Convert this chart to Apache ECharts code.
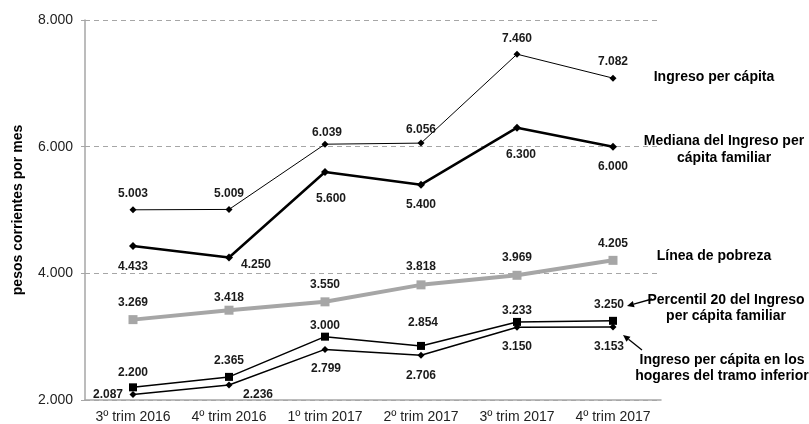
<!DOCTYPE html>
<html><head><meta charset="utf-8">
<script src="https://cdn.jsdelivr.net/npm/echarts@6/dist/echarts.min.js"></script>
<style>html,body{margin:0;padding:0;background:#fff}#c{width:809px;height:424px}</style>
</head><body><div id="c"></div>
<script>
var categories = ['3º trim 2016','4º trim 2016','1º trim 2017','2º trim 2017','3º trim 2017','4º trim 2017'];
var ingresoPerCapita = [5003, 5009, 6039, 6056, 7460, 7082];
var medianaIngreso = [4433, 4250, 5600, 5400, 6300, 6000];
var lineaPobreza = [3269, 3418, 3550, 3818, 3969, 4205];
var percentil20 = [2200, 2365, 3000, 2854, 3233, 3250];
var tramoInferior = [2087, 2236, 2799, 2706, 3150, 3153];
var yTicks = [2000, 4000, 6000, 8000];

// label offsets (styling)
var offPer = [[0,-16],[0,-16],[2,-12],[0,-13],[0,-16],[0,-16]];
var offMed = [[0,21],[27,7],[6,27],[0,20],[4,27],[0,20]];
var offPob = [[0,-17],[0,-13],[0,-17],[0,-18],[0,-18],[0,-17]];
var offP20 = [[0,-15],[0,-16],[0,-11],[2,-23],[0,-11],[-4,-16]];
var offTra = [[-25,0],[29,10],[1,19],[0,20],[0,20],[-4,20]];

function fmt(v){ return (v/1000).toFixed(3); }
function mk(vals, offs){
  return vals.map(function(v,i){ return {value:v, label:{offset:offs[i]}}; });
}
var FONT = 'Liberation Sans, Arial, sans-serif';
var lbl = {show:true, position:'inside', fontFamily:FONT, fontWeight:'bold', fontSize:12, color:'#1a1a1a',
  formatter:function(p){return fmt(p.value);}};

function arrow(x1,y1,x2,y2){
  var dx=x2-x1, dy=y2-y1, L=Math.sqrt(dx*dx+dy*dy), ux=dx/L, uy=dy/L, px=-uy, py=ux;
  var bx=x2-7*ux, by=y2-7*uy;
  return [
    {type:'line', shape:{x1:x1,y1:y1,x2:bx,y2:by}, style:{stroke:'#000', lineWidth:1.3}},
    {type:'polygon', shape:{points:[[x2,y2],[bx+3.2*px,by+3.2*py],[bx-3.2*px,by-3.2*py]]}, style:{fill:'#000'}}
  ];
}
function txt(x,y,s){
  return {type:'text', x:x, y:y, style:{text:s, textAlign:'center', textVerticalAlign:'middle', font:'bold 14px '+FONT, fill:'#000'}};
}

var chart = echarts.init(document.getElementById('c'));
chart.setOption({
  animation:false,
  grid:{left:85, right:148, top:20, bottom:24},
  xAxis:{type:'category', data:categories, boundaryGap:true,
    axisLine:{lineStyle:{color:'#a6a6a6', width:1.5}}, axisTick:{show:false},
    axisLabel:{interval:0, fontFamily:FONT, fontSize:14, color:'#222', margin:10}},
  yAxis:{type:'value', min:2000, max:8000, interval:2000,
    name:'pesos corrientes por mes', nameLocation:'middle', nameGap:60, nameRotate:90,
    nameTextStyle:{fontFamily:FONT, fontWeight:'bold', fontSize:14, color:'#000'},
    axisLine:{show:true, lineStyle:{color:'#a6a6a6', width:1.5}},
    axisTick:{show:true, length:4, lineStyle:{color:'#a6a6a6'}},
    splitLine:{lineStyle:{color:'#a6a6a6', type:[5,4], width:1}},
    axisLabel:{fontFamily:FONT, fontSize:14, color:'#222', margin:12,
      formatter:function(v){ return yTicks.indexOf(v)>=0 ? fmt(v) : ''; }}},
  series:[
    {name:'Ingreso per cápita', type:'line', data:mk(ingresoPerCapita,offPer), symbol:'diamond', symbolSize:7,
      lineStyle:{color:'#000', width:1}, itemStyle:{color:'#000'}, label:lbl},
    {name:'Mediana', type:'line', data:mk(medianaIngreso,offMed), symbol:'diamond', symbolSize:8,
      lineStyle:{color:'#000', width:2.5}, itemStyle:{color:'#000'}, label:lbl},
    {name:'Línea de pobreza', type:'line', data:mk(lineaPobreza,offPob), symbol:'rect', symbolSize:9,
      lineStyle:{color:'#a6a6a6', width:4}, itemStyle:{color:'#a6a6a6'}, label:lbl},
    {name:'Percentil 20', type:'line', data:mk(percentil20,offP20), symbol:'rect', symbolSize:8,
      lineStyle:{color:'#000', width:1.5}, itemStyle:{color:'#000'}, label:lbl},
    {name:'Tramo inferior', type:'line', data:mk(tramoInferior,offTra), symbol:'diamond', symbolSize:7,
      lineStyle:{color:'#000', width:1.5}, itemStyle:{color:'#000'}, label:lbl}
  ],
  graphic:[
    txt(714,77,'Ingreso per cápita'),
    txt(724,141,'Mediana del Ingreso per'),
    txt(724,158,'cápita familiar'),
    txt(714,256,'Línea de pobreza'),
    txt(726,300,'Percentil 20 del Ingreso'),
    txt(726,316,'per cápita familiar'),
    txt(722,360,'Ingreso per cápita en los'),
    txt(722,376,'hogares del tramo inferior')
  ].concat(arrow(652,299,627,306)).concat(arrow(642,350,623,335))
});
</script></body></html>
